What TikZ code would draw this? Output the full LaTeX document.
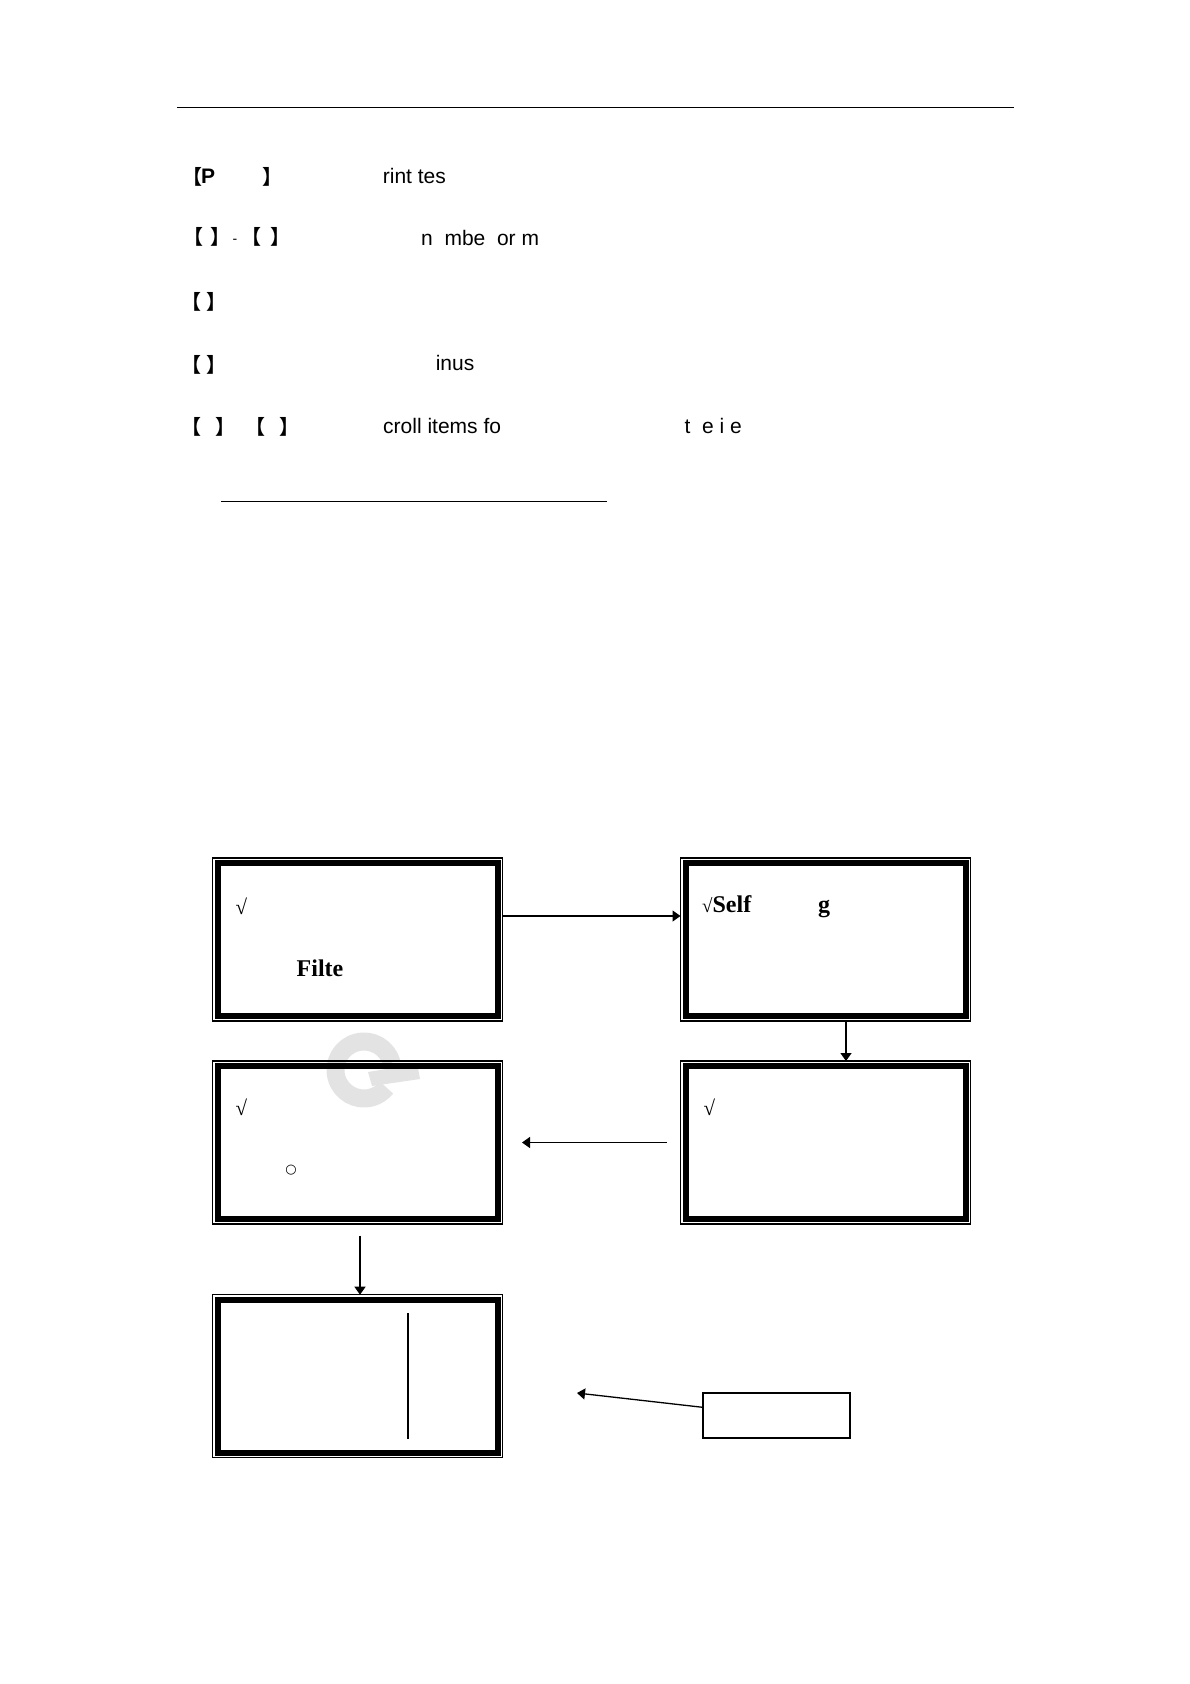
\documentclass[tikz,border=0pt]{standalone}
\usepackage{fontspec}
\setmainfont{Liberation Serif}
\newfontfamily\arialf{Liberation Sans}
\newfontfamily\cjkf{Noto Sans CJK SC}[BoldFont={Noto Sans CJK SC Bold}]
\newfontfamily\dejavuf{DejaVu Sans}
\usetikzlibrary{arrows.meta}
\tikzset{
  txt/.style={font=\arialf\fontsize{21}{24}\selectfont, inner sep=0pt, anchor=base west},
  lbk/.style={font=\cjkf\bfseries\fontsize{20}{22}\selectfont, inner sep=0pt, xshift=-3.6pt},
  rbk/.style={font=\cjkf\bfseries\fontsize{20}{22}\selectfont, inner sep=0pt, xshift=3.6pt},
  bxt/.style={font=\fontsize{24}{28}\selectfont\bfseries, inner sep=0pt, anchor=base west},
  chk/.style={font=\fontsize{21}{22}\selectfont, inner sep=0pt},
  arr/.style={line width=1.3pt, -{Triangle[length=8pt,width=11pt]}},
  dbox/.style={draw, line width=1.5pt, minimum width=290pt, minimum height=163pt,
    inner sep=0pt, outer sep=0pt,
    path picture={\draw[line width=6pt]
      ([shift={(5pt,-5pt)}]path picture bounding box.north west) rectangle
      ([shift={(-5pt,5pt)}]path picture bounding box.south east);}},
  sbox/.style={draw, line width=1.8pt, minimum width=147pt, minimum height=45.3pt,
    inner sep=0pt, outer sep=0pt}
}
\begin{document}
\begin{tikzpicture}[x=1pt,y=-1pt]
\fill[white] (0,0) rectangle (1190,1684);
\useasboundingbox (0,0) rectangle (1190,1684);

% top rule and underline
\draw[line width=1pt] (177,107.5) -- (1014,107.5);
\draw[line width=1.6pt] (221,501.5) -- (607,501.5);

% line 1
\node[lbk] (l1a) at (196.3,177) {【};
\node[txt, font=\arialf\fontsize{21}{24}\selectfont\bfseries] (l1p) at (201,183) {P};
\node[rbk] (l1b) at (269,177) {】};
\node[txt] (l1t) at (382.7,183) {rint tes};

% line 2
\node[lbk] (l2a) at (197,237) {【};
\node[rbk] (l2b) at (216.5,237) {】};
\node[font=\arialf\fontsize{14}{16}\selectfont, inner sep=0pt] (l2d) at (235,241) {-};
\node[lbk] (l2c) at (255,237) {【};
\node[rbk] (l2e) at (276.5,237) {】};
\node[txt] (l2t) at (421,245) {n\ \ mbe\ \ or m};

% line 3
\node[lbk] (l3a) at (195.5,302) {【};
\node[rbk] (l3b) at (212.5,302) {】};

% line 4
\node[lbk] (l4a) at (195.5,364.5) {【};
\node[rbk] (l4b) at (212.5,364.5) {】};
\node[txt] (l4t) at (435.6,370.5) {inus};

% line 5
\node[lbk] (l5a) at (195.5,426.5) {【};
\node[rbk] (l5b) at (222,426.5) {】};
\node[lbk] (l5c) at (259.5,426.5) {【};
\node[rbk] (l5d) at (285.5,426.5) {】};
\node[txt] (l5t) at (383,433) {croll items fo};
\node[txt] (l5u) at (684.5,433) {t\ \ e i e};

% watermark
\begin{scope}[shift={(364,1070)}, x=1pt, y=1pt]
  \draw[gray!22, line width=18pt] (15:28.5) arc[start angle=15, end angle=322, radius=28.5];
  \fill[gray!22] (4,-2) -- (47,5) -- (54,2) -- (56,-9) -- (8,-16) -- cycle;
\end{scope}

% boxes
\node[dbox] (b1) at (357.5,939.5) {};
\node[dbox] (b2) at (825.5,939.5) {};
\node[dbox] (b3) at (357.5,1142.5) {};
\node[dbox] (b4) at (825.5,1142.5) {};
\node[dbox] (b5) at (357.5,1376.2) {};
\node[sbox] (sb) at (776.2,1415.3) {};

% box texts
\node[chk] (c1) at (241.3,906.5) {√};
\node[bxt] (f1) at (296.5,976) {Filte};
\node[bxt] (s2) at (702,912) {{\mdseries\fontsize{19}{20}\selectfont √}Self};
\node[bxt] (g2) at (818,912) {g};
\node[chk] (c3) at (241.3,1107.5) {√};
\node[font=\dejavuf\fontsize{13}{14}\selectfont, inner sep=0pt] (o3) at (291,1170) {○};
\node[chk] (c4) at (709.3,1107) {√};
\draw[line width=2pt] (408.3,1313) -- (408.3,1439);

% connectors
\draw[arr] ([yshift=23.5pt]b1.east) -- ([yshift=23.5pt]b2.west);
\draw[arr] ([xshift=20.5pt]b2.south) -- ([xshift=20.5pt]b4.north);
\draw[arr, shorten <=14pt, shorten >=19.5pt] (b4.west) -- (b3.east);
\draw[arr, shorten <=11.5pt] ([xshift=2.5pt]b3.south) -- ([xshift=2.5pt]b5.north);
\coordinate (tip5) at (577,1393);
\draw[arr] ([yshift=8pt]sb.west) -- (tip5);
\end{tikzpicture}
\end{document}
